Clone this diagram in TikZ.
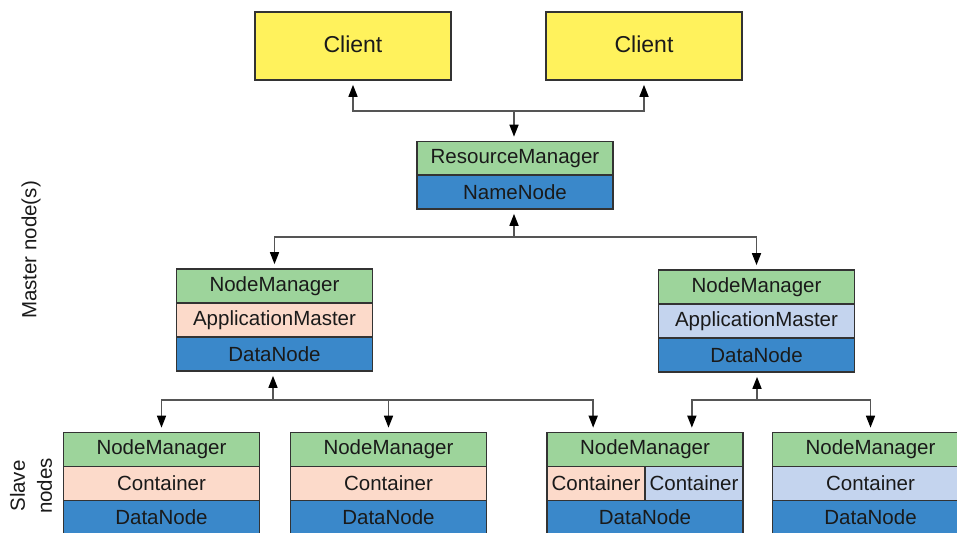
\documentclass[tikz,border=0pt]{standalone}
\usepackage{fontspec}
\setmainfont{Liberation Sans}
\usetikzlibrary{arrows.meta,calc}
\definecolor{cyellow}{HTML}{FFF25C}
\definecolor{cgreen}{HTML}{9DD49B}
\definecolor{csalmon}{HTML}{FCDACA}
\definecolor{clblue}{HTML}{C4D4EE}
\definecolor{cblue}{HTML}{3A88CA}
\definecolor{cborder}{HTML}{333333}
\definecolor{cline}{HTML}{555555}
\definecolor{ctext}{HTML}{1A1A1A}
\tikzset{
  cell/.style={draw=cborder, line width=1.7pt, minimum width=196pt, minimum height=34pt, inner sep=0pt, text=ctext, font=\fontsize{20.5}{24}\selectfont},
  client/.style={cell, fill=cyellow, minimum height=68pt, font=\fontsize{23}{26}\selectfont},
  green/.style={cell, fill=cgreen},
  salmon/.style={cell, fill=csalmon},
  lblue/.style={cell, fill=clblue},
  dblue/.style={cell, fill=cblue},
  half/.style={minimum width=98pt},
  uni/.style={draw=cline, line width=1.6pt, -{Triangle[length=12pt,width=9pt,color=black]}, shorten >=4pt},
  bi/.style={draw=cline, line width=1.6pt, {Triangle[length=12pt,width=9pt,color=black]}-{Triangle[length=12pt,width=9pt,color=black]}, shorten >=4pt, shorten <=4pt},
  side/.style={rotate=90, text=ctext, font=\fontsize{20.5}{27}\selectfont, align=center}
}
\begin{document}
\begin{tikzpicture}[x=1pt,y=-1pt]
\useasboundingbox (0,0) rectangle (957,532);
\clip (0,0) rectangle (957,532);
\fill[white] (0,0) rectangle (957,532);
% clients
\node[client] (c1) at (353,46) {\raisebox{3pt}{Client}};
\node[client] (c2) at (644,46) {\raisebox{3pt}{Client}};
% resource manager
\node[green] (rm) at (515,158.5) {ResourceManager};
\node[dblue] (nn) at (515,192) {NameNode};
% master-level node managers
\node[green]  (lnm) at (274.5,286) {NodeManager};
\node[salmon] (lam) at (274.5,320) {ApplicationMaster};
\node[dblue]  (ldn) at (274.5,354) {DataNode};
\node[green]  (rnm) at (756.5,287) {NodeManager};
\node[lblue]  (ram) at (756.5,321) {ApplicationMaster};
\node[dblue]  (rdn) at (756.5,355) {DataNode};
% slave nodes
\node[green]  (b1nm) at (161.5,449.5) {NodeManager};
\node[salmon] (b1c)  at (161.5,483.5) {Container};
\node[dblue]  (b1dn) at (161.5,517.5) {DataNode};
\node[green]  (b2nm) at (388.5,449.5) {NodeManager};
\node[salmon] (b2c)  at (388.5,483.5) {Container};
\node[dblue]  (b2dn) at (388.5,517.5) {DataNode};
\node[green]  (b3nm) at (645,449.5) {NodeManager};
\node[salmon,half] (b3ca) at (596,483.5) {Container};
\node[lblue,half]  (b3cb) at (694,483.5) {Container};
\node[dblue]  (b3dn) at (645,517.5) {DataNode};
\node[green]  (b4nm) at (870.5,449.5) {NodeManager};
\node[lblue]  (b4c)  at (870.5,483.5) {Container};
\node[dblue]  (b4dn) at (870.5,517.5) {DataNode};
% side labels
\node[side] (lmaster) at (31,250) {Master node(s)};
\node[side] (lslave) at (31,486) {Slave\\nodes};
% connectors
\coordinate (t1) at (514,111);
\draw[bi] (c1.south) |- (t1) -| (c2.south);
\draw[uni] (t1) -- (t1 |- rm.north);
\coordinate (t2) at (514,237);
\draw[uni] (t2) -- (t2 |- nn.south);
\draw[bi] (lnm.north) |- (t2) -| (rnm.north);
\coordinate (t3) at (273,400);
\draw[uni] (t3) -- (t3 |- ldn.south);
\draw[bi] (b1nm.north) |- (t3) -| ([xshift=47pt]b3nm.north west);
\draw[uni] (b2nm.north |- t3) -- (b2nm.north);
\coordinate (t4) at (757,400);
\draw[uni] (t4) -- (t4 |- rdn.south);
\draw[bi] ([xshift=-52pt]b3nm.north east) |- (t4) -| (b4nm.north);
\end{tikzpicture}
\end{document}
